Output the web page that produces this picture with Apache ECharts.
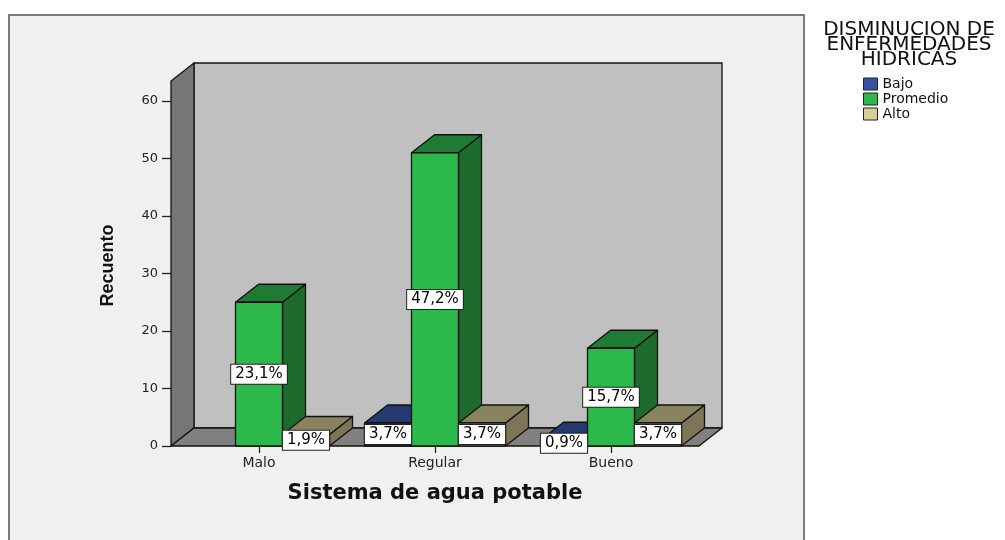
<!DOCTYPE html>
<html>
<head>
<meta charset="utf-8">
<script src="https://cdn.jsdelivr.net/npm/echarts@6/dist/echarts.min.js"></script>
<style>
html,body{margin:0;padding:0;background:#ffffff;}
#chart{width:1005px;height:540px;}
</style>
</head>
<body>
<div id="chart"></div>
<script>
// ---- data ----
const categories = ['Malo', 'Regular', 'Bueno'];
const seriesNames = ['Bajo', 'Promedio', 'Alto'];
const bajo = [0, 4, 1];
const promedio = [25, 51, 17];
const alto = [2, 4, 4];
const yTicks = [0, 10, 20, 30, 40, 50, 60];
const legendTitle = 'DISMINUCION DE\nENFERMEDADES\nHIDRICAS';
const xTitle = 'Sistema de agua potable';
const yTitle = 'Recuento';

// ---- styles ----
const FONT = '"DejaVu Sans", "Liberation Sans", Arial, sans-serif';
const DX = 23, DY = -18;
const colors = {
  Bajo:     { front: '#3552a3', top: '#263a70', side: '#1f3163' },
  Promedio: { front: '#2db84b', top: '#1f7a33', side: '#1d6c2d' },
  Alto:     { front: '#d6cf98', top: '#88825f', side: '#7c7656' }
};
const allSeries = [bajo, promedio, alto];
const total = allSeries.reduce((s, arr) => s + arr.reduce((a, b) => a + b, 0), 0);

function pctLabel(v) {
  return (v / total * 100).toFixed(1).replace('.', ',') + '%';
}

function makeBarSeries(name, values, slot) {
  const c = colors[name];
  return {
    name: name,
    type: 'custom',
    z: 2,
    itemStyle: { color: c.front, borderColor: '#222', borderWidth: 1 },
    data: values.map((v, i) => [i, v]),
    renderItem: function (params, api) {
      const v = api.value(1);
      if (!v) return null;
      const band = api.size([1, 0])[0];
      const w = band * 0.267;
      const center = api.coord([api.value(0), 0]);
      const topPt = api.coord([api.value(0), v]);
      const cx = center[0] + (slot - 1) * w;
      const x0 = cx - w / 2, x1 = cx + w / 2;
      const yB = center[1], yT = topPt[1];
      const stroke = { stroke: '#111', lineWidth: 1.3, lineJoin: 'round' };
      return {
        type: 'group',
        children: [
          { type: 'polygon', shape: { points: [[x1, yT], [x1 + DX, yT + DY], [x1 + DX, yB + DY], [x1, yB]] },
            style: Object.assign({ fill: c.side }, stroke) },
          { type: 'polygon', shape: { points: [[x0, yT], [x0 + DX, yT + DY], [x1 + DX, yT + DY], [x1, yT]] },
            style: Object.assign({ fill: c.top }, stroke) },
          { type: 'rect', shape: { x: x0, y: yT, width: w, height: yB - yT },
            style: Object.assign({ fill: c.front }, stroke) },
          { type: 'text', z2: 100, x: cx, y: (yT + yB) / 2,
            style: { text: pctLabel(v), fill: '#000', fontSize: 15, fontFamily: FONT,
              align: 'center', verticalAlign: 'middle', lineHeight: 16,
              backgroundColor: '#ffffff', borderColor: '#222', borderWidth: 1, padding: [2, 4, 1, 4] } }
        ]
      };
    }
  };
}

const wallSeries = {
  name: 'walls',
  type: 'custom',
  z: 1,
  silent: true,
  data: [[0, 0]],
  renderItem: function (params, api) {
    const cs = params.coordSys;
    const x0 = cs.x, x1 = cs.x + cs.width;
    const yB = cs.y + cs.height;
    const yT = cs.y - 20;
    const stroke = { stroke: '#111', lineWidth: 1.3, lineJoin: 'round' };
    return {
      type: 'group',
      children: [
        { type: 'polygon', shape: { points: [[x0 + DX, yT + DY], [x1 + DX, yT + DY], [x1 + DX, yB + DY], [x0 + DX, yB + DY]] },
          style: Object.assign({ fill: '#c0c0c0' }, stroke) },
        { type: 'polygon', shape: { points: [[x0, yT], [x0 + DX, yT + DY], [x0 + DX, yB + DY], [x0, yB]] },
          style: Object.assign({ fill: '#767676' }, stroke) },
        { type: 'polygon', shape: { points: [[x0, yB], [x1, yB], [x1 + DX, yB + DY], [x0 + DX, yB + DY]] },
          style: Object.assign({ fill: '#808080' }, stroke) }
      ]
    };
  }
};

const chart = echarts.init(document.getElementById('chart'), null, { renderer: 'canvas' });
chart.setOption({
  animation: false,
  backgroundColor: '#ffffff',
  textStyle: { fontFamily: FONT },
  graphic: [
    { type: 'rect', z: -10, shape: { x: 9, y: 15, width: 795, height: 540 },
      style: { fill: '#f0f0f0', stroke: '#7a7a7a', lineWidth: 2 } },
    { type: 'text', z: 10, x: 909, y: 22,
      style: { text: legendTitle, fill: '#111', fontSize: 20, fontFamily: FONT, lineHeight: 15,
        align: 'center', verticalAlign: 'top' } }
  ],
  legend: {
    data: seriesNames,
    orient: 'vertical',
    left: 858,
    top: 72,
    itemWidth: 14,
    itemHeight: 12,
    itemGap: 1,
    icon: 'rect',
    itemStyle: { borderColor: '#222', borderWidth: 1 },
    textStyle: { fontSize: 14, fontFamily: FONT, color: '#111', lineHeight: 12 },
    selectedMode: false
  },
  grid: { left: 171, right: 306, top: 101, bottom: 94, containLabel: false },
  xAxis: {
    type: 'category',
    data: categories,
    name: xTitle,
    nameLocation: 'middle',
    nameGap: 37,
    nameTextStyle: { fontSize: 21, fontWeight: 'bold', fontFamily: FONT, color: '#111' },
    axisLine: { show: false },
    axisTick: { show: true, alignWithLabel: true, length: 7, lineStyle: { color: '#222', width: 1.3 } },
    axisLabel: { fontSize: 14, color: '#222', fontFamily: FONT, margin: 10 },
    splitLine: { show: false }
  },
  yAxis: {
    type: 'value',
    min: yTicks[0],
    max: yTicks[yTicks.length - 1],
    interval: yTicks[1] - yTicks[0],
    name: yTitle,
    nameLocation: 'middle',
    nameGap: 54,
    nameTextStyle: { fontSize: 18, fontWeight: 'bold', fontFamily: '"Liberation Sans", Arial, sans-serif',
      color: '#111', padding: [0, 0, 0, 16] },
    axisLine: { show: false },
    axisTick: { show: true, length: 9, lineStyle: { color: '#222', width: 1.3 } },
    axisLabel: { fontSize: 13, color: '#222', fontFamily: FONT, margin: 13 },
    splitLine: { show: false }
  },
  series: [
    wallSeries,
    makeBarSeries('Bajo', bajo, 0),
    makeBarSeries('Promedio', promedio, 1),
    makeBarSeries('Alto', alto, 2)
  ]
});
</script>
</body>
</html>
